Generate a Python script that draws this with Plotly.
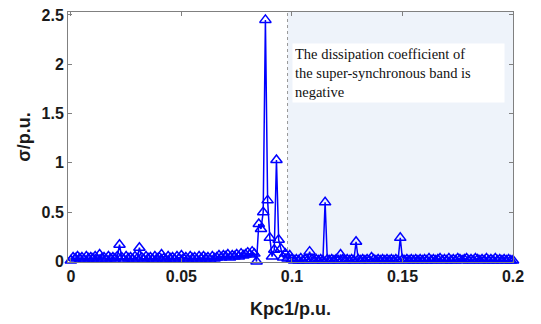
import plotly.graph_objects as go

# Kpc1 values (p.u.), step 0.001 from 0 to 0.2
kpc1 = [round(i * 0.001, 3) for i in range(201)]

sigma = [
    0.01, 0.04, 0.03, 0.05, 0.03, 0.04, 0.02, 0.05, 0.03, 0.04,
    0.03, 0.05, 0.02, 0.07, 0.03, 0.04, 0.02, 0.05, 0.03, 0.04,
    0.03, 0.05, 0.17, 0.04, 0.02, 0.05, 0.03, 0.04, 0.02, 0.05,
    0.03, 0.14, 0.04, 0.02, 0.05, 0.03, 0.04, 0.02, 0.05, 0.03,
    0.04, 0.07, 0.03, 0.02, 0.05, 0.03, 0.04, 0.02, 0.05, 0.03,
    0.06, 0.03, 0.04, 0.02, 0.05, 0.03, 0.04, 0.02, 0.05, 0.03,
    0.05, 0.03, 0.04, 0.02, 0.05, 0.03, 0.04, 0.06, 0.04, 0.06,
    0.05, 0.07, 0.04, 0.06, 0.05, 0.07, 0.05, 0.08, 0.06, 0.07,
    0.09, 0.07, 0.10, 0.08, 0.00, 0.38, 0.33, 0.50, 2.45, 0.62,
    0.24, 0.05, 0.12, 1.03, 0.22, 0.13, 0.04, 0.08, 0.03, 0.06,
    0.02, 0.01, 0.02, 0.01, 0.03, 0.01, 0.02, 0.01, 0.10, 0.02,
    0.01, 0.02, 0.01, 0.02, 0.01, 0.60, 0.02, 0.01, 0.02, 0.01,
    0.02, 0.01, 0.07, 0.02, 0.01, 0.02, 0.01, 0.02, 0.01, 0.20,
    0.02, 0.01, 0.02, 0.01, 0.02, 0.01, 0.04, 0.02, 0.01, 0.02,
    0.01, 0.02, 0.01, 0.02, 0.01, 0.02, 0.01, 0.02, 0.01, 0.24,
    0.02, 0.01, 0.02, 0.01, 0.02, 0.01, 0.02, 0.01, 0.02, 0.01,
    0.02, 0.01, 0.03, 0.01, 0.02, 0.01, 0.02, 0.03, 0.01, 0.02,
    0.01, 0.03, 0.01, 0.02, 0.01, 0.03, 0.02, 0.01, 0.02, 0.03,
    0.01, 0.02, 0.01, 0.03, 0.02, 0.01, 0.02, 0.01, 0.03, 0.01,
    0.02, 0.01, 0.03, 0.01, 0.02, 0.01, 0.02, 0.01, 0.02, 0.01,
    0.01,
]

x_ticks = [0, 0.05, 0.1, 0.15, 0.2]
x_tick_labels = ["0", "0.05", "0.1", "0.15", "0.2"]
y_ticks = [0, 0.5, 1, 1.5, 2, 2.5]
y_tick_labels = ["0", "0.5", "1", "1.5", "2", "2.5"]
band_start = 0.098
band_end = 0.2
note = "The dissipation coefficient of<br>the super-synchronous band is<br>negative"

fig = go.Figure()
fig.add_trace(go.Scatter(
    x=kpc1, y=sigma, mode="lines+markers",
    line=dict(color="#0000FF", width=1.5),
    marker=dict(symbol="triangle-up-open", size=10, color="#0000FF",
                line=dict(width=1.5, color="#0000FF")),
    cliponaxis=False, showlegend=False,
))

fig.add_shape(type="rect", xref="x", yref="paper", x0=band_start, x1=band_end,
              y0=0, y1=1, fillcolor="#EEF3FA", line=dict(width=0), layer="below")
fig.add_shape(type="line", xref="x", yref="paper", x0=band_start, x1=band_start,
              y0=0, y1=1, line=dict(color="#999999", width=1, dash="dot"), layer="below")

fig.add_annotation(
    xref="paper", yref="paper", x=0.503, y=0.878, xanchor="left", yanchor="top",
    text=note, showarrow=False, align="left",
    font=dict(family="Liberation Serif", size=14.5, color="#111111"),
    bgcolor="white", borderpad=2, width=207,
)

axis_font = dict(family="Liberation Sans", size=16, color="#1a1a1a")
fig.update_layout(
    width=541, height=324,
    margin=dict(l=68, r=28, t=7, b=62),
    plot_bgcolor="white", paper_bgcolor="white",
    xaxis=dict(
        range=[-0.0013, 0.2], tickvals=x_ticks, ticktext=["<b>%s</b>" % t for t in x_tick_labels],
        tickfont=axis_font, ticks="inside", ticklen=4, tickcolor="#808080",
        showline=True, linecolor="#808080", linewidth=1, mirror="ticks",
        showgrid=False, zeroline=False,
        title=dict(text="<b>Kpc1/p.u.</b>", font=dict(family="Liberation Sans", size=18, color="#1a1a1a"), standoff=18),
    ),
    yaxis=dict(
        range=[-0.005, 2.53], tickvals=y_ticks, ticktext=["<b>%s</b>" % t for t in y_tick_labels],
        tickfont=axis_font, ticks="inside", ticklen=4, tickcolor="#808080",
        showline=True, linecolor="#808080", linewidth=1, mirror="ticks",
        showgrid=False, zeroline=False,
        title=dict(text="<b>σ/p.u.</b>", font=dict(family="Liberation Sans", size=18, color="#1a1a1a"), standoff=6),
    ),
)

fig.write_html("out.html")
